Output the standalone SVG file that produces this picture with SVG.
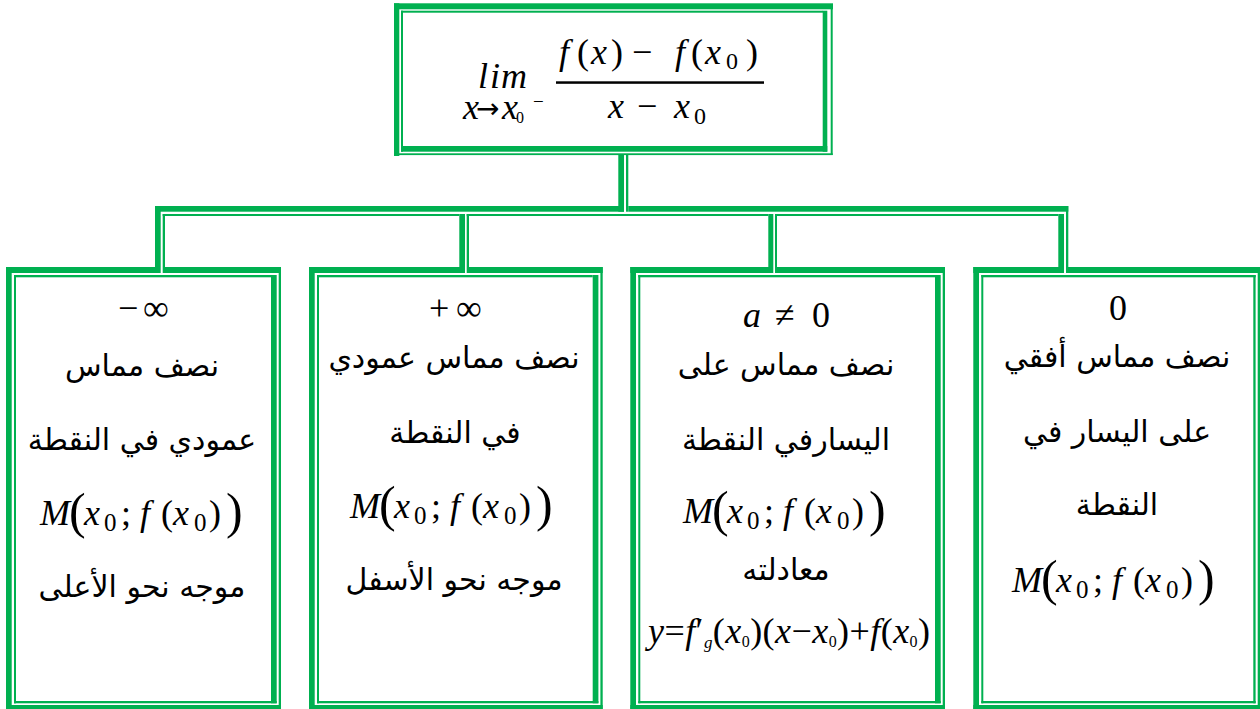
<svg xmlns="http://www.w3.org/2000/svg" width="1260" height="709" viewBox="0 0 1260 709">
<style>
.g{fill:#00B050}
.w{fill:#fff}
.ar{font-family:"DejaVu Sans","Noto Sans",sans-serif;font-size:30px;fill:#000;text-anchor:middle}
.m{font-family:"Liberation Serif","DejaVu Serif",serif;font-size:36px;fill:#000}
.i{font-style:italic}
.s{font-size:25px}
.b{font-size:50px}
.arr{font-family:"DejaVu Sans",sans-serif;font-size:28px;font-style:normal}
</style>
<rect width="1260" height="709" fill="#fff"/>
<g id="connectors">
  <rect class="g" x="618.3" y="155" width="5.7" height="56.7"/>
  <rect class="g" x="626" y="155" width="2.3" height="56.7"/>
  <rect class="g" x="155" y="206" width="469" height="5.7"/>
  <rect class="g" x="628.3" y="206" width="440" height="5.7"/>
  <rect class="g" x="162.7" y="214" width="296.6" height="2"/>
  <rect class="g" x="466.7" y="214" width="301.6" height="2"/>
  <rect class="g" x="775" y="214" width="283.3" height="2"/>
  <rect class="g" x="155" y="206" width="5.7" height="66.7"/>
  <rect class="g" x="162.7" y="214" width="2.3" height="53.3"/>
  <rect class="g" x="459.3" y="214" width="5.7" height="58.7"/>
  <rect class="g" x="466.7" y="214" width="2.3" height="53.3"/>
  <rect class="g" x="768.3" y="214" width="5" height="58.7"/>
  <rect class="g" x="775" y="214" width="2" height="53.3"/>
  <rect class="g" x="1058.3" y="214" width="5.7" height="58.7"/>
  <rect class="g" x="1066" y="206" width="2.3" height="61.3"/>
</g>
<g id="top">
  <rect class="g" x="394" y="3.3" width="439" height="6"/>
  <rect class="g" x="394" y="3.3" width="5.3" height="152.7"/>
  <rect class="g" x="830.7" y="9" width="2" height="146"/>
  <rect class="g" x="394" y="153.3" width="438.7" height="1.8"/>
  <rect class="g" x="401" y="10.7" width="422" height="2"/>
  <rect class="g" x="401" y="10.7" width="2" height="141"/>
  <rect class="g" x="822.7" y="10.7" width="4.6" height="141"/>
  <rect class="g" x="401" y="146" width="426.3" height="5.7"/>
  <text class="m i" y="88" font-size="36"><tspan x="478">l</tspan><tspan x="490">i</tspan><tspan x="501">m</tspan></text>
  <text class="m" y="119" font-size="20"><tspan class="i" x="463">x</tspan><tspan class="arr" x="476" dy="-1">→</tspan><tspan class="i" x="502" dy="1">x</tspan><tspan x="516" dy="4" font-size="16">0</tspan><tspan x="533" dy="-15" font-size="19">−</tspan></text>
  <text class="m" y="64" font-size="34"><tspan class="i" x="559">f</tspan><tspan x="577">(</tspan><tspan class="i" x="591">x</tspan><tspan x="611">)</tspan><tspan x="632">−</tspan><tspan class="i" x="675">f</tspan><tspan x="691">(</tspan><tspan class="i" x="705">x</tspan><tspan x="726" dy="5" font-size="24">0</tspan><tspan x="746" dy="-5">)</tspan></text>
  <rect x="556" y="81.3" width="208" height="2.5" fill="#000"/>
  <text class="m" y="118" font-size="34"><tspan class="i" x="608">x</tspan><tspan x="637">−</tspan><tspan class="i" x="674">x</tspan><tspan x="694" dy="6" font-size="24">0</tspan></text>
</g>
<g id="box1">
  <rect class="g" x="6" y="267" width="275" height="6"/>
  <rect class="g" x="6" y="267" width="5.7" height="442"/>
  <rect class="g" x="278.7" y="267" width="2.3" height="442"/>
  <rect class="g" x="6" y="705" width="275" height="4"/>
  <rect class="g" x="14" y="275" width="257" height="2.3"/>
  <rect class="g" x="14" y="275" width="2" height="428.3"/>
  <rect class="g" x="271" y="275" width="5.7" height="428.3"/>
  <rect class="g" x="14" y="701" width="262.7" height="2.3"/>
  <rect class="w" x="160.7" y="267" width="2" height="6"/>
  <text class="m" y="320" font-size="34"><tspan x="118">−</tspan><tspan x="143">∞</tspan></text>
  <text class="ar" x="142" y="376">نصف مماس</text>
  <text class="ar" x="142" y="450">عمودي في النقطة</text>
  <text class="m" transform="translate(40,525)"><tspan class="i" x="0" y="0">M</tspan><tspan class="b" x="29" y="3">(</tspan><tspan class="i" x="44" y="0">x</tspan><tspan class="s" x="64" y="6">0</tspan><tspan x="81" y="0">;</tspan><tspan class="i" x="100" y="0">f</tspan><tspan x="121" y="0">(</tspan><tspan class="i" x="133" y="0">x</tspan><tspan class="s" x="154" y="6">0</tspan><tspan x="169" y="0">)</tspan><tspan class="b" x="186" y="3">)</tspan></text>
  <text class="ar" x="142" y="597">موجه نحو الأعلى</text>
</g>
<g id="box2">
  <rect class="g" x="309" y="267" width="293.7" height="6"/>
  <rect class="g" x="309" y="267" width="5.7" height="442"/>
  <rect class="g" x="600.4" y="267" width="2.3" height="442"/>
  <rect class="g" x="309" y="705" width="293.7" height="4"/>
  <rect class="g" x="317" y="275" width="275.7" height="2.3"/>
  <rect class="g" x="317" y="275" width="2" height="428.3"/>
  <rect class="g" x="592.7" y="275" width="5.7" height="428.3"/>
  <rect class="g" x="317" y="701" width="281.4" height="2.3"/>
  <rect class="w" x="465" y="267" width="1.7" height="6"/>
  <text class="m" y="320" font-size="34"><tspan x="429">+</tspan><tspan x="456">∞</tspan></text>
  <text class="ar" x="454" y="368">نصف مماس عمودي</text>
  <text class="ar" x="455" y="443">في النقطة</text>
  <text class="m" transform="translate(350,518)"><tspan class="i" x="0" y="0">M</tspan><tspan class="b" x="29" y="3">(</tspan><tspan class="i" x="44" y="0">x</tspan><tspan class="s" x="64" y="6">0</tspan><tspan x="81" y="0">;</tspan><tspan class="i" x="100" y="0">f</tspan><tspan x="121" y="0">(</tspan><tspan class="i" x="133" y="0">x</tspan><tspan class="s" x="154" y="6">0</tspan><tspan x="169" y="0">)</tspan><tspan class="b" x="186" y="3">)</tspan></text>
  <text class="ar" x="454" y="590">موجه نحو الأسفل</text>
</g>
<g id="box3">
  <rect class="g" x="630.3" y="267" width="314.7" height="6"/>
  <rect class="g" x="630.3" y="267" width="5.7" height="442"/>
  <rect class="g" x="942.7" y="267" width="2.3" height="442"/>
  <rect class="g" x="630.3" y="705" width="314.7" height="4"/>
  <rect class="g" x="638.3" y="275" width="296.7" height="2.3"/>
  <rect class="g" x="638.3" y="275" width="2" height="428.3"/>
  <rect class="g" x="935" y="275" width="5.7" height="428.3"/>
  <rect class="g" x="638.3" y="701" width="302.4" height="2.3"/>
  <rect class="w" x="773.3" y="267" width="1.7" height="6"/>
  <text class="m" y="327" font-size="34"><tspan class="i" x="743">a</tspan><tspan x="775">≠</tspan><tspan x="812">0</tspan></text>
  <text class="ar" x="786" y="375">نصف مماس على</text>
  <text class="ar" x="786" y="450">اليسارفي النقطة</text>
  <text class="m" transform="translate(683,523)"><tspan class="i" x="0" y="0">M</tspan><tspan class="b" x="29" y="3">(</tspan><tspan class="i" x="44" y="0">x</tspan><tspan class="s" x="64" y="6">0</tspan><tspan x="81" y="0">;</tspan><tspan class="i" x="100" y="0">f</tspan><tspan x="121" y="0">(</tspan><tspan class="i" x="133" y="0">x</tspan><tspan class="s" x="154" y="6">0</tspan><tspan x="169" y="0">)</tspan><tspan class="b" x="186" y="3">)</tspan></text>
  <text class="ar" x="786" y="580">معادلته</text>
  <text class="m" x="648" y="643" font-size="23" textLength="282"><tspan class="i">y</tspan>=<tspan class="i">f</tspan>′<tspan class="i" dy="5" font-size="17">g</tspan><tspan dy="-5">(</tspan><tspan class="i">x</tspan><tspan dy="4" font-size="16">0</tspan><tspan dy="-4">)(</tspan><tspan class="i">x</tspan>−<tspan class="i">x</tspan><tspan dy="4" font-size="16">0</tspan><tspan dy="-4">)+</tspan><tspan class="i">f</tspan>(<tspan class="i">x</tspan><tspan dy="4" font-size="16">0</tspan><tspan dy="-4">)</tspan></text>
</g>
<g id="box4">
  <rect class="g" x="973.3" y="267" width="286.7" height="6"/>
  <rect class="g" x="973.3" y="267" width="5.7" height="442"/>
  <rect class="g" x="1257.7" y="267" width="2.3" height="442"/>
  <rect class="g" x="973.3" y="705" width="286.7" height="4"/>
  <rect class="g" x="981.3" y="275" width="274.4" height="2.3"/>
  <rect class="g" x="981.3" y="275" width="2" height="428.3"/>
  <rect class="g" x="1253.3" y="275" width="2.3" height="428.3"/>
  <rect class="g" x="981.3" y="701" width="274.4" height="2.3"/>
  <rect class="w" x="1064" y="267" width="2" height="6"/>
  <text class="m" x="1118" y="320" font-size="34" text-anchor="middle">0</text>
  <text class="ar" x="1117" y="367">نصف مماس أفقي</text>
  <text class="ar" x="1117" y="442">على اليسار في</text>
  <text class="ar" x="1117" y="515">النقطة</text>
  <text class="m" transform="translate(1012,592)"><tspan class="i" x="0" y="0">M</tspan><tspan class="b" x="29" y="3">(</tspan><tspan class="i" x="44" y="0">x</tspan><tspan class="s" x="64" y="6">0</tspan><tspan x="81" y="0">;</tspan><tspan class="i" x="100" y="0">f</tspan><tspan x="121" y="0">(</tspan><tspan class="i" x="133" y="0">x</tspan><tspan class="s" x="154" y="6">0</tspan><tspan x="169" y="0">)</tspan><tspan class="b" x="186" y="3">)</tspan></text>
</g>
</svg>
